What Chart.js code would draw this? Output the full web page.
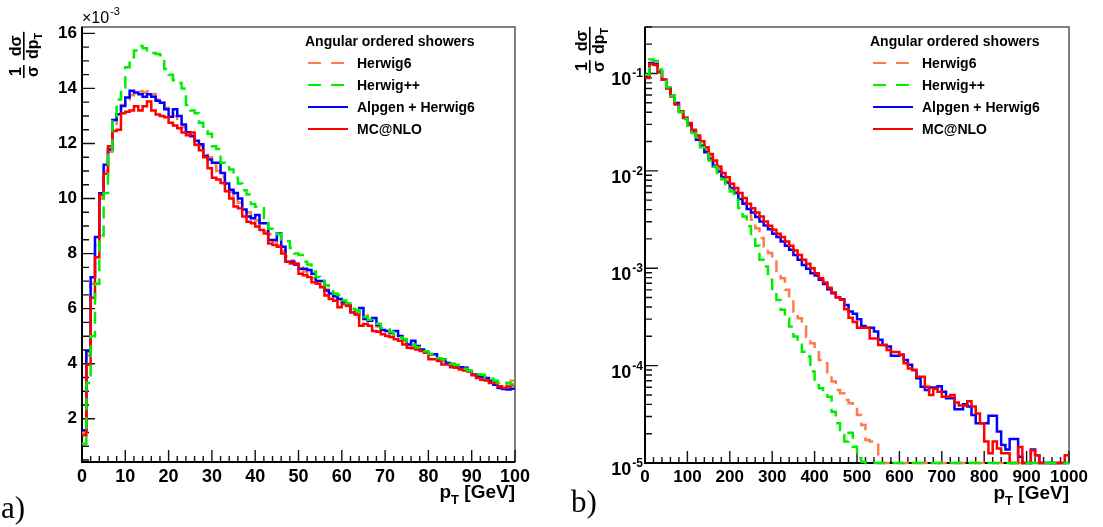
<!DOCTYPE html>
<html>
<head>
<meta charset="utf-8">
<script src="https://cdn.jsdelivr.net/npm/chart.js@4.4.1/dist/chart.umd.min.js"></script>
<style>
  html, body { margin: 0; padding: 0; background: #fff; }
  body { width: 1103px; height: 527px; position: relative; overflow: hidden; }
  canvas { position: absolute; top: 0; }
  #graficoA { left: 0; }
  #graficoB { left: 550px; }
  .etiqueta { position: absolute; font-family: "Liberation Serif", "DejaVu Serif", serif; font-size: 31px; line-height: 31px; }
</style>
</head>
<body>
<canvas id="graficoA" width="550" height="527"></canvas>
<canvas id="graficoB" width="553" height="527"></canvas>
<div class="etiqueta" style="left:1px;top:492px">a)</div>
<div class="etiqueta" style="left:571px;top:486px">b)</div>
<script>
// series (same order as the legend)
const nombres = ["Herwig6", "Herwig++", "Alpgen + Herwig6", "MC@NLO"];
const tituloLeyenda = "Angular ordered showers";

// panel a: 1/sigma dsigma/dpT in units of 1e-3, 1 GeV bins from 0 to 100 GeV
const anchoBinA = 1;
const herwig6A = [1.5, 4.3, 6.9, 8.3, 10.0, 11.0, 11.7, 12.6, 13.1, 13.4,
  13.6, 13.75, 13.8, 13.9, 13.85, 13.9, 13.8, 13.6, 13.5, 13.3,
  13.2, 13.0, 12.9, 12.6, 12.4, 12.3, 12.1, 11.9, 11.7, 11.5,
  11.2, 11.0, 10.8, 10.5, 10.25, 10.1, 9.85, 9.7, 9.5, 9.3,
  9.2, 9.0, 8.8, 8.7, 8.45, 8.3, 8.1, 7.9, 7.75, 7.6,
  7.5, 7.35, 7.2, 7.1, 6.95, 6.8, 6.7, 6.55, 6.45, 6.3,
  6.2, 6.1, 6.0, 5.85, 5.7, 5.75, 5.55, 5.45, 5.35, 5.25,
  5.2, 5.1, 5.0, 4.95, 4.85, 4.75, 4.65, 4.6, 4.5, 4.4,
  4.35, 4.25, 4.2, 4.1, 4.05, 4.0, 3.95, 3.9, 3.85, 3.75,
  3.7, 3.6, 3.58, 3.5, 3.4, 3.35, 3.3, 3.25, 3.3, 3.38];
const herwigppA = [1.09, 3.3, 5.0, 6.9, 8.66, 10.2, 11.65, 12.9, 13.6, 14.03,
  14.77, 15.13, 15.38, 15.54, 15.46, 15.38, 15.29, 15.25, 15.2, 14.7,
  14.5, 14.3, 14.2, 14.0, 13.4, 13.2, 13.1, 12.75, 12.45, 12.35,
  11.9, 11.8, 11.3, 11.25, 11.05, 10.75, 10.55, 10.3, 10.15, 9.8,
  9.7, 9.65, 9.2, 8.9, 8.85, 8.7, 8.5, 8.45, 8.2, 8.0,
  7.95, 7.7, 7.6, 7.35, 7.15, 7.0, 6.85, 6.75, 6.55, 6.5,
  6.3, 6.2, 6.0, 5.95, 5.85, 5.7, 5.6, 5.55, 5.45, 5.3,
  5.25, 5.15, 5.05, 4.95, 4.9, 4.8, 4.7, 4.6, 4.55, 4.45,
  4.35, 4.3, 4.2, 4.15, 4.05, 4.0, 3.95, 3.88, 3.82, 3.75,
  3.7, 3.62, 3.6, 3.5, 3.45, 3.38, 3.3, 3.28, 3.3, 3.25];
const alpgenA = [1.58, 4.45, 7.14, 8.6, 10.19, 11.23, 11.78, 12.85, 13.06, 13.36,
  13.67, 13.91, 13.85, 13.79, 13.7, 13.79, 13.7, 13.55, 13.48, 13.24,
  12.97, 13.24, 13.0, 12.69, 12.41, 12.26, 12.1, 11.97, 11.54, 11.42,
  11.3, 11.3, 10.93, 10.55, 10.32, 10.2, 10.0, 9.6, 9.35, 9.28,
  9.4, 9.1, 9.1, 8.49, 8.49, 8.73, 8.25, 7.7, 7.7, 7.6,
  7.45, 7.45, 7.4, 7.27, 7.0, 7.0, 6.66, 6.55, 6.45, 6.35,
  6.23, 6.11, 5.87, 5.8, 6.02, 5.62, 5.56, 5.66, 5.41, 5.22,
  5.19, 5.13, 5.19, 5.01, 4.89, 4.7, 4.83, 4.64, 4.52, 4.4,
  4.34, 4.34, 4.16, 4.16, 4.03, 3.97, 3.91, 3.87, 3.85, 3.73,
  3.61, 3.55, 3.51, 3.48, 3.36, 3.24, 3.12, 3.08, 3.06, 3.09];
const mcnloA = [1.4, 3.96, 6.4, 7.87, 10.13, 10.9, 11.9, 12.45, 12.5, 13.1,
  13.15, 13.2, 13.35, 13.2, 13.35, 13.52, 13.2, 13.05, 13.0, 12.95,
  12.75, 12.65, 12.55, 12.4, 12.3, 12.4, 11.95, 11.75, 11.5, 11.1,
  10.75, 10.69, 10.56, 10.26, 10.0, 9.71, 9.65, 9.35, 9.16, 9.1,
  8.98, 8.86, 8.73, 8.37, 8.31, 8.25, 8.0, 7.7, 7.64, 7.64,
  7.27, 7.21, 7.15, 6.96, 6.9, 6.78, 6.48, 6.35, 6.29, 6.05,
  6.17, 6.11, 5.87, 5.8, 5.38, 5.44, 5.38, 5.19, 5.16, 5.07,
  5.01, 4.97, 4.89, 4.83, 4.7, 4.58, 4.56, 4.52, 4.46, 4.4,
  4.16, 4.16, 4.1, 3.97, 3.97, 3.87, 3.85, 3.79, 3.75, 3.73,
  3.58, 3.48, 3.42, 3.39, 3.3, 3.34, 3.18, 3.12, 3.17, 3.22];

// panel b: 10 GeV bins from 0 to 1000 GeV (0 = empty bin)
const anchoBinB = 10;
const herwig6B = [0.092, 0.127, 0.124, 0.104, 0.086, 0.071, 0.059, 0.049, 0.041, 0.035,
  0.0305, 0.026, 0.0222, 0.019, 0.0165, 0.014, 0.0122, 0.0105, 0.0091, 0.0079,
  0.0069, 0.0061, 0.00546, 0.00467, 0.00398, 0.00315, 0.00258, 0.00204, 0.00167, 0.00143,
  0.00117, 0.00089, 0.00079, 0.0006, 0.000492, 0.000359, 0.000307, 0.000252, 0.000195, 0.00017,
  0.000151, 0.000114, 0.000106, 0.00008, 0.0000685, 0.0000562, 0.000052, 0.0000444, 0.000041, 0.0000385,
  0.0000311, 0.0000246, 0.0000172, 0.0000166, 0.0000166, 0, 0, 0, 0, 0,
  0, 0, 0, 0, 0, 0, 0, 0, 0, 0,
  0, 0, 0, 0, 0, 0, 0, 0, 0, 0,
  0, 0, 0, 0, 0, 0, 0, 0, 0, 0,
  0, 0, 0, 0, 0, 0, 0, 0, 0, 0];
const herwigppB = [0.097, 0.139, 0.134, 0.11, 0.088, 0.072, 0.059, 0.049, 0.04, 0.034,
  0.029, 0.0245, 0.0205, 0.0175, 0.015, 0.0128, 0.011, 0.0095, 0.0082, 0.0072,
  0.00615, 0.00505, 0.00415, 0.0034, 0.0027, 0.0021, 0.0017, 0.00122, 0.00104, 0.00076,
  0.000577, 0.000473, 0.000374, 0.000307, 0.000252, 0.000199, 0.000177, 0.000139, 0.000124, 0.000087,
  0.0000634, 0.0000586, 0.00005, 0.000048, 0.0000335, 0.0000256, 0.0000194, 0.0000166, 0.0000205, 0.0000147,
  0.0000112, 0.0000103, 0, 0, 0, 0, 0, 0, 0, 0,
  0, 0, 0, 0, 0, 0, 0, 0, 0, 0,
  0, 0, 0, 0, 0, 0, 0, 0, 0, 0,
  0, 0, 0, 0, 0, 0, 0, 0, 0, 0,
  0, 0, 0, 0, 0, 0, 0, 0, 0, 0];
const alpgenB = [0.095, 0.128, 0.125, 0.105, 0.086, 0.071, 0.059, 0.0498, 0.0409, 0.0349,
  0.0298, 0.0255, 0.0209, 0.0181, 0.0155, 0.0132, 0.0113, 0.00987, 0.00863, 0.0076,
  0.00665, 0.00591, 0.00513, 0.00459, 0.00405, 0.00374, 0.00335, 0.00302, 0.00275, 0.00252,
  0.00226, 0.00209, 0.00188, 0.0017, 0.00155, 0.00137, 0.00122, 0.00108, 0.00099, 0.00089,
  0.00084, 0.00076, 0.00069, 0.00061, 0.000555, 0.000505, 0.000481, 0.00042, 0.00036, 0.00034,
  0.0003, 0.000255, 0.000245, 0.000245, 0.000224, 0.000184, 0.000163, 0.000157, 0.000126, 0.000126,
  0.000129, 0.000114, 0.000102, 0.0000903, 0.0000742, 0.0000608, 0.0000562, 0.0000595, 0.0000595, 0.0000615,
  0.000054, 0.0000462, 0.0000462, 0.0000357, 0.0000357, 0.00004, 0.000038, 0.0000311, 0.0000256, 0.0000256,
  0.0000256, 0.0000306, 0.0000306, 0.000021, 0.0000153, 0.0000138, 0.0000176, 0.0000176, 0.0000116, 0,
  0, 0.0000138, 0.000012, 0, 0, 0, 0, 0, 0, 0];
const mcnloB = [0.09, 0.125, 0.122, 0.103, 0.086, 0.07, 0.058, 0.048, 0.041, 0.035,
  0.031, 0.0265, 0.023, 0.0201, 0.0175, 0.0149, 0.0128, 0.0111, 0.0095, 0.0086,
  0.00738, 0.00665, 0.00591, 0.00525, 0.00459, 0.00414, 0.00374, 0.0034, 0.00302, 0.00273,
  0.00248, 0.00226, 0.00209, 0.00188, 0.0017, 0.00152, 0.00137, 0.00122, 0.00111, 0.001,
  0.00089, 0.00079, 0.000713, 0.00063, 0.000564, 0.000505, 0.000475, 0.00038, 0.00031, 0.00028,
  0.000245, 0.000245, 0.000245, 0.00019, 0.00019, 0.000163, 0.000163, 0.000145, 0.000138, 0.000138,
  0.000129, 0.000106, 0.0000935, 0.00009, 0.000077, 0.000077, 0.0000608, 0.00005, 0.000058, 0.000054,
  0.000048, 0.000048, 0.00005, 0.0000417, 0.000039, 0.000039, 0.000043, 0.000038, 0.0000323, 0.0000256,
  0.0000166, 0.0000126, 0.0000166, 0.0000141, 0.0000126, 0.0000126, 0, 0, 0.0000146, 0,
  0, 0.0000135, 0.000012, 0, 0, 0, 0, 0, 0, 0.000012];

// axis ticks
const ticksXA = [0, 10, 20, 30, 40, 50, 60, 70, 80, 90, 100];
const ticksYA = [2, 4, 6, 8, 10, 12, 14, 16];
const ticksXB = [0, 100, 200, 300, 400, 500, 600, 700, 800, 900, 1000];
const ticksYB = [1e-5, 1e-4, 1e-3, 1e-2, 1e-1];

// styles
const colores = ["#ff7a50", "#00ee00", "#0000ff", "#ff0000"];
const trazos = [[12, 7], [12, 7], [], []];
const ordenDibujo = [3, 0, 2, 1];
const fuente = "'Liberation Sans', Arial, sans-serif";

function histograma(valores, ancho, piso) {
  const puntos = valores.map((v, i) => ({ x: i * ancho, y: piso ? Math.max(v, piso) : v }));
  puntos.push({ x: valores.length * ancho, y: puntos[puntos.length - 1].y });
  return puntos;
}

function tituloY(ctx, xBarra, yInicio) {
  ctx.save();
  ctx.translate(xBarra, yInicio);
  ctx.rotate(-Math.PI / 2);
  ctx.fillStyle = "#000";
  ctx.textBaseline = "alphabetic";
  ctx.textAlign = "left";
  const f = "bold 16px " + fuente, fs = "bold 11px " + fuente;
  ctx.font = f;
  const w1 = Math.max(ctx.measureText("1").width, ctx.measureText("σ").width) + 2;
  ctx.fillText("1", (w1 - ctx.measureText("1").width) / 2, -3);
  ctx.fillText("σ", (w1 - ctx.measureText("σ").width) / 2, 14);
  ctx.fillRect(0, -1, w1, 1.6);
  const u2 = w1 + 5;
  const wd = ctx.measureText("dσ").width;
  const wp = ctx.measureText("dp").width;
  ctx.font = fs;
  const wt = ctx.measureText("T").width;
  const w2 = Math.max(wd, wp + wt) + 2;
  ctx.font = f;
  ctx.fillText("dσ", u2 + (w2 - wd) / 2, -3);
  const dx = u2 + (w2 - wp - wt) / 2;
  ctx.fillText("dp", dx, 14);
  ctx.font = fs;
  ctx.fillText("T", dx + wp, 18);
  ctx.fillRect(u2, -1, w2, 1.6);
  ctx.restore();
}

// ROOT-like frame: inward ticks, titles and legend
const marcoRoot = {
  id: "marcoRoot",
  beforeDatasetsDraw(chart, args, o) {
    const ctx = chart.ctx, a = chart.chartArea;
    const sx = chart.scales.x, sy = chart.scales.y;
    ctx.save();
    ctx.lineWidth = 1.5;
    ctx.strokeStyle = "#555";
    ctx.strokeRect(a.left, a.top, a.right - a.left, a.bottom - a.top);
    ctx.strokeStyle = "#111";
    ctx.lineWidth = 1.4;
    ctx.beginPath();
    const nx = Math.round((sx.max - sx.min) / o.xMenor);
    for (let i = 0; i <= nx; i++) {
      const v = sx.min + i * o.xMenor;
      const p = sx.getPixelForValue(v);
      const largo = o.xMayores.includes(v) ? 12 : 6;
      ctx.moveTo(p, a.bottom);
      ctx.lineTo(p, a.bottom - largo);
    }
    if (o.log) {
      for (let e = -6; e <= 0; e++) {
        for (let m = 1; m <= 9; m++) {
          const v = m * Math.pow(10, e);
          if (v < sy.min * 0.999 || v > sy.max * 1.001) continue;
          const p = sy.getPixelForValue(v);
          ctx.moveTo(a.left, p);
          ctx.lineTo(a.left + (m === 1 ? 13 : 7), p);
        }
      }
    } else {
      const ini = Math.ceil(sy.min / o.yMenor);
      const fin = Math.floor(sy.max / o.yMenor);
      for (let k = ini; k <= fin; k++) {
        const v = k * o.yMenor;
        const p = sy.getPixelForValue(v);
        const largo = o.yMayores.includes(v) ? 13 : 7;
        ctx.moveTo(a.left, p);
        ctx.lineTo(a.left + largo, p);
      }
    }
    ctx.stroke();
    ctx.lineWidth = 2;
    ctx.strokeStyle = "#000";
    ctx.beginPath();
    ctx.moveTo(a.left, a.top);
    ctx.lineTo(a.left, a.bottom);
    ctx.lineTo(a.right, a.bottom);
    ctx.stroke();
    ctx.restore();
  },
  afterDraw(chart, args, o) {
    const ctx = chart.ctx, a = chart.chartArea;
    const sy = chart.scales.y;
    ctx.save();
    ctx.fillStyle = "#000";
    ctx.textBaseline = "alphabetic";

    // log axis labels 10^n
    if (o.log) {
      o.yEtiquetas.forEach((v) => {
        const p = sy.getPixelForValue(v);
        const sup = String(Math.round(Math.log10(v)));
        ctx.textAlign = "right";
        ctx.font = "bold 12px " + fuente;
        const ws = ctx.measureText(sup).width;
        ctx.fillText(sup, a.left - 2, p + 4);
        ctx.font = "bold 18px " + fuente;
        ctx.fillText("10", a.left - 3 - ws, p + 12);
      });
    }

    // x10^-3 multiplier
    if (o.multiplicador) {
      ctx.textAlign = "left";
      ctx.font = "16px " + fuente;
      ctx.fillText("×10", a.left, a.top - 4);
      const w = ctx.measureText("×10").width;
      ctx.font = "11px " + fuente;
      ctx.fillText(o.multiplicador, a.left + w + 1, a.top - 12);
    }

    // x title p_T [GeV]
    ctx.textAlign = "left";
    ctx.font = "bold 19px " + fuente;
    const wg = ctx.measureText(" [GeV]").width;
    const wpp = ctx.measureText("p").width;
    ctx.font = "bold 13px " + fuente;
    const wtt = ctx.measureText("T").width;
    const x0 = a.right - wg - wtt - wpp;
    const yb = a.bottom + 36;
    ctx.font = "bold 19px " + fuente;
    ctx.fillText("p", x0, yb);
    ctx.fillText(" [GeV]", x0 + wpp + wtt, yb);
    ctx.font = "bold 13px " + fuente;
    ctx.fillText("T", x0 + wpp, yb + 6);

    // y title
    tituloY(ctx, a.left - o.tituloYDx, a.top + o.tituloYDy);

    // legend
    const lx = a.right - o.leyendaDx;
    ctx.font = "bold 14px " + fuente;
    ctx.textAlign = "left";
    ctx.fillText(tituloLeyenda, lx, a.top + 19);
    chart.data.datasets.forEach((d, i) => {
      const yc = a.top + 36 + i * 22;
      ctx.save();
      ctx.strokeStyle = d.borderColor;
      ctx.lineWidth = 2;
      ctx.setLineDash(d.borderDash.length ? [13, 10] : []);
      ctx.beginPath();
      ctx.moveTo(lx + 3, yc);
      ctx.lineTo(lx + 43, yc);
      ctx.stroke();
      ctx.restore();
      ctx.fillText(d.label, lx + 52, yc + 5);
    });
    ctx.restore();
  }
};

function conjuntos(series, ancho, piso) {
  return series.map((valores, i) => ({
    label: nombres[i],
    data: histograma(valores, ancho, piso),
    borderColor: colores[i],
    borderDash: trazos[i],
    borderWidth: 2.5,
    stepped: true,
    pointRadius: 0,
    fill: false,
    clip: 4,
    order: ordenDibujo[i]
  }));
}

function crearPanel(id, cfg) {
  const ctx = document.getElementById(id).getContext("2d");
  return new Chart(ctx, {
    type: "line",
    data: { datasets: cfg.datasets },
    options: {
      responsive: false,
      animation: false,
      events: [],
      layout: { padding: cfg.padding },
      plugins: {
        legend: { display: false },
        tooltip: { enabled: false },
        marcoRoot: cfg.marco
      },
      scales: {
        x: {
          type: "linear",
          min: cfg.xMin,
          max: cfg.xMax,
          grid: { display: false, drawTicks: false },
          border: { display: false },
          ticks: {
            color: "#000",
            padding: 4,
            maxRotation: 0,
            autoSkip: false,
            font: { family: fuente, weight: "bold", size: cfg.xFont },
            callback: (v) => String(v)
          },
          afterBuildTicks: (s) => { s.ticks = cfg.xTicks.map((v) => ({ value: v })); },
          afterFit: (s) => { s.height = cfg.xAlto; s.paddingLeft = 0; s.paddingRight = 0; }
        },
        y: {
          type: cfg.yTipo,
          min: cfg.yMin,
          max: cfg.yMax,
          grid: { display: false, drawTicks: false },
          border: { display: false },
          ticks: {
            display: cfg.yTipo === "linear",
            color: "#000",
            padding: 5,
            font: { family: fuente, weight: "bold", size: 17 },
            callback: (v) => String(v)
          },
          afterBuildTicks: (s) => { s.ticks = cfg.yTicks.map((v) => ({ value: v })); },
          afterFit: (s) => { s.width = cfg.yAncho; s.paddingTop = 0; s.paddingBottom = 0; }
        }
      }
    },
    plugins: [marcoRoot]
  });
}

crearPanel("graficoA", {
  datasets: conjuntos([herwig6A, herwigppA, alpgenA, mcnloA], anchoBinA, null),
  padding: { top: 27, right: 35, left: 0, bottom: 0 },
  xMin: 0, xMax: 100, xTicks: ticksXA, xFont: 18, xAlto: 65,
  yTipo: "linear", yMin: 0.43, yMax: 16.23, yTicks: ticksYA, yAncho: 82,
  marco: {
    log: false, xMayores: ticksXA, xMenor: 2, yMayores: ticksYA, yMenor: 0.5,
    multiplicador: "-3", tituloYDx: 58, tituloYDy: 51, leyendaDx: 210
  }
});

crearPanel("graficoB", {
  datasets: conjuntos([herwig6B, herwigppB, alpgenB, mcnloB], anchoBinB, 1e-5),
  padding: { top: 27, right: 34, left: 0, bottom: 0 },
  xMin: 0, xMax: 1000, xTicks: ticksXB, xFont: 17, xAlto: 64,
  yTipo: "logarithmic", yMin: 1e-5, yMax: 0.3, yTicks: ticksYB, yAncho: 95,
  marco: {
    log: true, xMayores: ticksXB, xMenor: 20, yEtiquetas: ticksYB,
    multiplicador: null, tituloYDx: 55, tituloYDy: 46, leyendaDx: 199
  }
});
</script>
</body>
</html>
